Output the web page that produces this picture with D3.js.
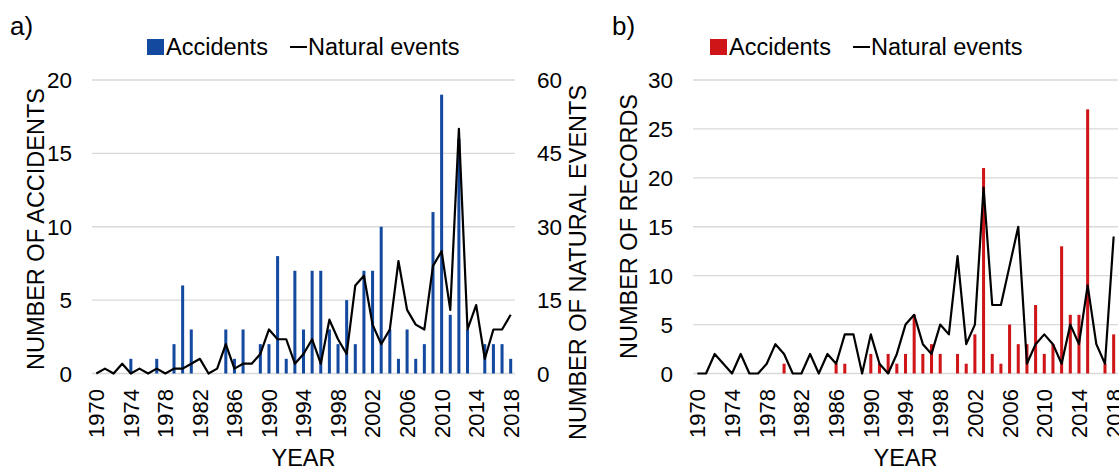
<!DOCTYPE html>
<html>
<head>
<meta charset="utf-8">
<script src="https://cdn.jsdelivr.net/npm/d3@7"></script>
<style>
  html, body { margin: 0; padding: 0; background: #fff; }
  svg { display: block; font-family: "Liberation Sans", Arial, sans-serif; }
</style>
</head>
<body>
<div id="chart"></div>
<script>
// ===== DATA =====
const years = d3.range(1970, 2019);
const yearTicks = years.filter(y => (y - 1970) % 4 === 0);

// panel a
const accidentsA = [0,0,0,0,1,0,0,1,0,2, 6,3,0,0,0,3,1,3,0,2, 2,8,1,7,3,7,7,3,2,5, 2,7,7,10,3,1,3,1,2,11, 19,4,16,3,0,2,2,2,1];
const naturalA   = [0,1,0,2,0,1,0,1,0,1, 1,2,3,0,1,6,1,2,2,4, 9,7,7,2,4,7,2,11,7,4, 18,20,10,6,9,23,13,10,9,22, 25,13,50,9,14,3,9,9,12];
const leftTicksA = [0,5,10,15,20];
const rightTicksA = [0,15,30,45,60];

// panel b
const accidentsB = [0,0,0,0,0,0,0,0,0,0, 1,0,0,0,0,0,1,1,0,0, 2,1,2,1,2,6,2,3,2,0, 2,1,4,21,2,1,5,3,3,7, 2,3,13,6,6,27,0,1,4];
const naturalB   = [0,0,2,1,0,2,0,0,1,3, 2,0,0,2,0,2,1,4,4,0, 4,1,0,2,5,6,3,2,5,4, 12,3,5,19,7,7,11,15,1,3, 4,3,1,5,3,9,3,1,14];
const leftTicksB = [0,5,10,15,20,25,30];

// ===== SIZE =====
const width = 1119;
const height = 468;
const plotTop = 80, plotBottom = 373.5;

const svg = d3.select("#chart")
  .append("svg")
  .attr("width", width)
  .attr("height", height);

function drawPanel(p){
  const g = svg.append("g");

  const x = d3.scaleBand()
    .domain(years)
    .range([p.x0, p.x1])
    .paddingInner(0.65)
    .paddingOuter(0.325);

  const y = d3.scaleLinear().domain([0, p.yMax]).range([plotBottom, plotTop]);
  const y2 = d3.scaleLinear().domain([0, p.y2Max]).range([plotBottom, plotTop]);

  // grid
  g.selectAll("line.grid")
    .data(p.leftTicks)
    .join("line")
    .attr("class","grid")
    .attr("x1",p.x0).attr("x2",p.x1)
    .attr("y1",d=>y(d)).attr("y2",d=>y(d))
    .attr("stroke","#d9d9d9")
    .attr("stroke-width",1.3);

  // left ticks
  g.selectAll("text.ly")
    .data(p.leftTicks)
    .join("text")
    .attr("class","ly")
    .attr("x",p.x0 - 20)
    .attr("y",d=>y(d))
    .attr("dy","0.36em")
    .attr("text-anchor","end")
    .style("font-size","22.5px")
    .text(d=>d);

  // right ticks
  if(p.rightTicks){
    g.selectAll("text.ry")
      .data(p.rightTicks)
      .join("text")
      .attr("class","ry")
      .attr("x",p.x1 + 22)
      .attr("y",d=>y2(d))
      .attr("dy","0.36em")
      .attr("text-anchor","start")
      .style("font-size","22.5px")
      .text(d=>d);
  }

  // x ticks
  g.selectAll("text.xt")
    .data(yearTicks)
    .join("text")
    .attr("class","xt")
    .attr("transform",d=>`translate(${x(d) + x.bandwidth()/2},389) rotate(-90)`)
    .attr("dy","0.36em")
    .attr("text-anchor","end")
    .style("font-size","22px")
    .text(d=>d);

  // bars
  const barData = years.map((yr,i)=>({year:yr, v:p.bars[i]}));
  g.selectAll("rect.bar")
    .data(barData.filter(d=>d.v > 0))
    .join("rect")
    .attr("class","bar")
    .attr("x",d=>x(d.year))
    .attr("width",x.bandwidth())
    .attr("y",d=>y(d.v))
    .attr("height",d=>y(0) - y(d.v))
    .attr("fill",p.color);

  // line
  const lineY = p.rightTicks ? y2 : y;
  const line = d3.line()
    .x(d=>x(d.year) + x.bandwidth()/2)
    .y(d=>lineY(d.v));

  g.append("path")
    .datum(years.map((yr,i)=>({year:yr, v:p.line[i]})))
    .attr("d",line)
    .attr("fill","none")
    .attr("stroke","#000")
    .attr("stroke-width",2.2)
    .attr("stroke-linejoin","round");

  // axis titles
  g.append("text")
    .attr("transform",`translate(${p.ltX},${p.ltY}) rotate(-90)`)
    .attr("dy","0.36em")
    .attr("text-anchor","middle")
    .style("font-size","23.5px")
    .text(p.leftTitle);

  if(p.rightTitle){
    g.append("text")
      .attr("transform",`translate(${p.rtX},${p.rtY}) rotate(-90)`)
      .attr("dy","0.36em")
      .attr("text-anchor","middle")
      .style("font-size","23.5px")
      .text(p.rightTitle);
  }

  g.append("text")
    .attr("x",(p.x0 + p.x1)/2)
    .attr("y",466)
    .attr("text-anchor","middle")
    .style("font-size","23.5px")
    .text("YEAR");

  // panel letter
  g.append("text")
    .attr("x",p.letterX)
    .attr("y",35)
    .style("font-size","26px")
    .text(p.letter);

  // legend
  const lg = g.append("g").attr("transform",`translate(${p.legX},0)`);
  lg.append("rect")
    .attr("x",0).attr("y",39)
    .attr("width",17).attr("height",16)
    .attr("fill",p.color);
  lg.append("text")
    .attr("x",19).attr("y",54.5)
    .style("font-size","23.5px")
    .text("Accidents");
  lg.append("line")
    .attr("x1",143).attr("x2",160)
    .attr("y1",47).attr("y2",47)
    .attr("stroke","#000")
    .attr("stroke-width",2);
  lg.append("text")
    .attr("x",161).attr("y",54.5)
    .style("font-size","23.5px")
    .text("Natural events");
}

drawPanel({
  x0:92, x1:515,
  yMax:20, y2Max:60,
  leftTicks:leftTicksA, rightTicks:rightTicksA,
  bars:accidentsA, line:naturalA,
  color:"#1449a0",
  leftTitle:"NUMBER OF ACCIDENTS", ltX:36, ltY:229,
  rightTitle:"NUMBER OF NATURAL EVENTS", rtX:578, rtY:262.5,
  letter:"a)", letterX:10,
  legX:147
});

drawPanel({
  x0:693, x1:1118,
  yMax:30, y2Max:30,
  leftTicks:leftTicksB, rightTicks:null,
  bars:accidentsB, line:naturalB,
  color:"#cf1518",
  leftTitle:"NUMBER OF RECORDS", ltX:629, ltY:226.5,
  rightTitle:null,
  letter:"b)", letterX:612,
  legX:710
});
</script>
</body>
</html>
